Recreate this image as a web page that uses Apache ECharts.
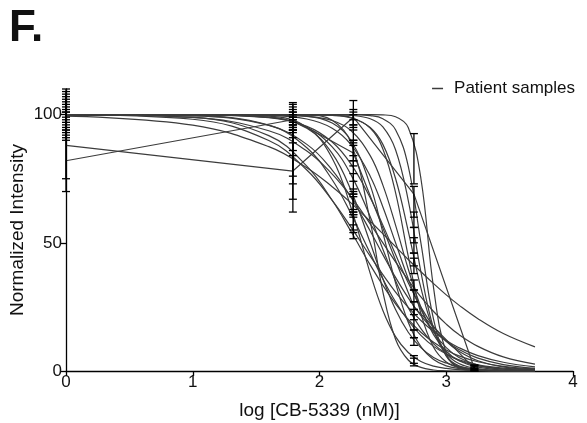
<!DOCTYPE html>
<html>
<head>
<meta charset="utf-8">
<script src="https://cdn.jsdelivr.net/npm/echarts@6/dist/echarts.min.js"></script>
<style>
  html, body { margin: 0; padding: 0; background: #fff; }
  #chart { width: 587px; height: 423px; }
</style>
</head>
<body>
<div id="chart"></div>
<script>
// x positions (log nM) where the fitted curves are sampled
const curveX = [0, 1.0, 1.6, 1.9, 2.1, 2.25, 2.4, 2.5, 2.6, 2.7, 2.8, 2.9, 3.0, 3.1, 3.25, 3.45, 3.7];

// fitted curves, one row per patient sample
const fitCurves = [
  [100, 100, 100, 100, 100, 100, 100, 99.9, 99.2, 95.0, 75.1, 32.4, 7.0, 1.2, 0.1, 0, 0],
  [100, 100, 100, 100, 100, 100, 99.6, 98.4, 94.1, 79.9, 50, 20.1, 5.9, 1.6, 0.2, 0, 0],
  [100, 100, 100, 100, 100, 99.7, 98.4, 95.2, 86.3, 66.6, 38.7, 16.6, 5.9, 2.0, 0.4, 0, 0],
  [100, 100, 100, 99.9, 99.7, 98.7, 95.0, 88.4, 75.1, 54.6, 32.4, 16.0, 7.0, 2.9, 0.8, 0.1, 0],
  [100, 100, 100, 100, 99.8, 98.9, 94.8, 86.6, 69.6, 44.8, 22.4, 9.3, 3.5, 1.3, 0.3, 0, 0],
  [100, 100, 99.9, 99.4, 97.7, 93.7, 84.0, 72.5, 56.9, 39.8, 24.9, 14.2, 7.7, 4.0, 1.5, 0.4, 0.1],
  [100, 100, 99.7, 98.3, 94.7, 88.2, 76.0, 64.0, 50, 36.0, 24.0, 15.1, 9.1, 5.3, 2.3, 0.7, 0.2],
  [100, 99.9, 98.8, 95.4, 89.3, 80.6, 67.6, 56.9, 45.4, 34.4, 24.9, 17.3, 11.6, 7.7, 4.0, 1.6, 0.5],
  [100, 100, 99.9, 99.3, 96.7, 89.8, 72.5, 54.0, 34.4, 19.0, 9.5, 4.5, 2.0, 1.0, 0.3, 0, 0],
  [100, 99.9, 98.9, 95.0, 87.4, 76.4, 60.2, 47.5, 35.2, 24.7, 16.5, 10.6, 6.7, 4.1, 2.0, 0.7, 0.2],
  [100, 99.5, 95.8, 88.4, 78.4, 67.6, 54.6, 45.4, 36.5, 28.5, 21.6, 16.0, 11.6, 8.4, 5.0, 2.5, 1.0],
  [100, 100, 100, 99.8, 97.8, 88.8, 58.5, 30.9, 12.4, 4.3, 1.4, 0.4, 0.1, 0, 0, 0, 0],
  [100, 100, 99.0, 94.7, 84.9, 70.3, 50, 36.0, 24.0, 15.1, 9.1, 5.3, 3.1, 1.7, 0.7, 0.2, 0],
  [100, 99.6, 95.9, 87.1, 74.6, 61.2, 45.9, 35.9, 27.0, 19.6, 13.9, 9.6, 6.6, 4.4, 2.4, 1.1, 0.4],
  [100, 100, 99.4, 95.1, 83.0, 63.5, 38.1, 23.6, 13.4, 7.2, 3.7, 1.9, 1.0, 0.5, 0.2, 0, 0],
  [100, 98.9, 91.8, 79.9, 66.6, 54.3, 41.4, 33.4, 26.2, 20.1, 15.1, 11.2, 8.2, 5.9, 3.6, 1.8, 0.8],
  [99.4, 95.9, 87.5, 79.3, 71.9, 65.5, 58.4, 53.5, 48.5, 43.5, 38.7, 34.1, 29.7, 25.7, 20.4, 14.6, 9.4],
  [99.9, 98.2, 89.9, 78.4, 66.6, 56.0, 44.8, 37.6, 30.8, 24.8, 19.7, 15.4, 11.9, 9.1, 6.0, 3.4, 1.6],
  [100, 98.9, 93.7, 85.8, 76.8, 67.9, 57.4, 50, 42.6, 35.5, 28.9, 23.2, 18.3, 14.2, 9.6, 5.5, 2.7]
];

// two samples drawn point to point
const doseX = [0, 1.79, 2.267, 2.745, 3.222];
const straightA = [88, 78, 99, 69, 1];
const straightB = [82, 98, 85, 25, 1];

// error bars [low, high] at each dose
const bars0 = [[98, 102], [96, 104], [94, 106], [92, 108], [90, 110], [97, 103], [95, 105], [93, 107], [99, 101], [91, 109], [75, 101], [70, 94]];
const bars1 = [[98, 102], [96, 104], [97, 103], [95, 104.7], [99, 101], [94, 100], [89, 96], [86, 96], [76, 94], [73, 91], [67, 98], [84, 94], [62, 94], [93, 101], [95, 99]];
const bars2 = [[95, 105.5], [98, 102], [96, 101], [94, 100], [88, 96], [82, 90], [74, 82], [84, 90], [69, 77], [61, 69], [80, 89], [63, 71], [55, 61], [54, 62], [51.6, 57], [60, 68], [62, 70]];
const bars3 = [[73, 92.6], [56, 62], [50, 56], [46, 52], [41, 46], [31.6, 35.5], [27, 31.6], [22, 27], [16, 24], [13, 16], [2, 5], [10, 13], [3, 6], [38, 44], [20, 24], [60, 72]];
const bars4 = [[0, 2], [0.5, 2], [0, 1.5], [0.8, 2.4], [0, 1]];

const yTicks = [0, 50, 100];

const chart = echarts.init(document.getElementById('chart'));

const lineColor = '#3c3c3c';
const series = [];
fitCurves.forEach(function (row) {
  series.push({
    name: 'Patient samples',
    type: 'line',
    data: curveX.map(function (x, i) { return [x, row[i]]; }),
    smooth: 0.4,
    showSymbol: false,
    lineStyle: { color: lineColor, width: 1.2 },
    itemStyle: { color: lineColor },
    silent: true
  });
});
[straightA, straightB].forEach(function (row) {
  series.push({
    name: 'Patient samples',
    type: 'line',
    data: doseX.map(function (x, i) { return [x, row[i]]; }),
    showSymbol: false,
    lineStyle: { color: lineColor, width: 1.2 },
    itemStyle: { color: lineColor },
    silent: true
  });
});

const barData = [];
[bars0, bars1, bars2, bars3, bars4].forEach(function (list, k) {
  list.forEach(function (b) { barData.push([doseX[k], b[0], b[1]]); });
});

series.push({
  name: 'err',
  type: 'custom',
  data: barData,
  silent: true,
  z: 5,
  renderItem: function (params, api) {
    const lo = api.coord([api.value(0), api.value(1)]);
    const hi = api.coord([api.value(0), api.value(2)]);
    const w = 4;
    const st = { stroke: '#000', lineWidth: 1.3 };
    return {
      type: 'group',
      children: [
        { type: 'line', shape: { x1: lo[0], y1: lo[1], x2: hi[0], y2: hi[1] }, style: st },
        { type: 'line', shape: { x1: lo[0] - w, y1: lo[1], x2: lo[0] + w, y2: lo[1] }, style: st },
        { type: 'line', shape: { x1: hi[0] - w, y1: hi[1], x2: hi[0] + w, y2: hi[1] }, style: st }
      ]
    };
  }
});

chart.setOption({
  animation: false,
  textStyle: { fontFamily: 'Liberation Sans, Arial, sans-serif' },
  title: {
    text: 'F.',
    left: 4,
    top: 2,
    textStyle: { fontSize: 44, fontWeight: 'bold', color: '#111', fontFamily: 'Liberation Sans' }
  },
  legend: {
    data: ['Patient samples'],
    right: 7,
    top: 75,
    icon: 'rect',
    itemWidth: 11,
    itemHeight: 1.5,
    textStyle: { fontSize: 17, color: '#111', padding: [0, 0, 0, 6] }
  },
  grid: { left: 66, right: 14, top: 89, bottom: 52, outerBoundsMode: 'none' },
  xAxis: {
    type: 'value',
    min: 0,
    max: 4,
    interval: 1,
    name: 'log [CB-5339 (nM)]',
    nameLocation: 'middle',
    nameGap: 30,
    nameMoveOverlap: false,
    nameTextStyle: { fontSize: 19, color: '#111' },
    axisLine: { lineStyle: { color: '#000', width: 1.3 } },
    axisTick: { length: 5, lineStyle: { color: '#000', width: 1.3 } },
    axisLabel: { fontSize: 17, color: '#111', margin: 3 },
    splitLine: { show: false }
  },
  yAxis: {
    type: 'value',
    min: 0,
    max: 110,
    name: 'Normalized Intensity',
    nameLocation: 'middle',
    nameGap: 39,
    nameMoveOverlap: false,
    nameTextStyle: { fontSize: 19, color: '#111' },
    axisLine: { show: true, lineStyle: { color: '#000', width: 1.3 } },
    axisTick: { show: true, length: 5, customValues: yTicks, lineStyle: { color: '#000', width: 1.3 } },
    axisLabel: { fontSize: 17, color: '#111', margin: 4, customValues: yTicks },
    splitLine: { show: false }
  },
  series: series
});
</script>
</body>
</html>
